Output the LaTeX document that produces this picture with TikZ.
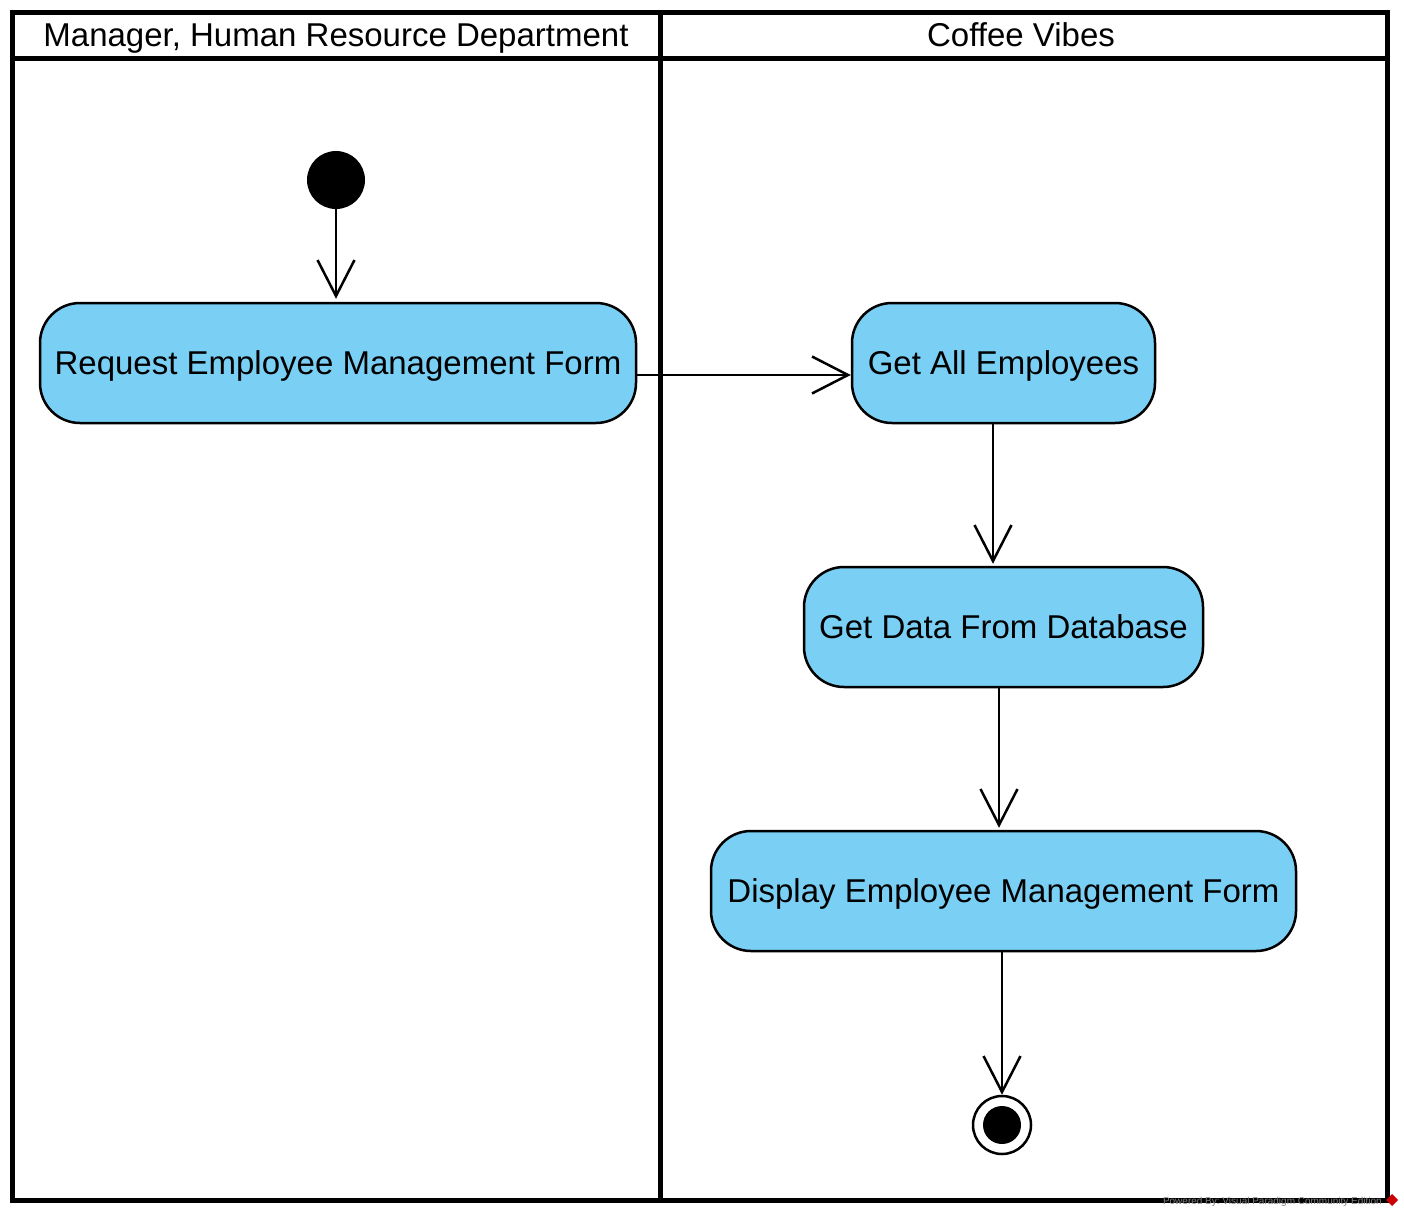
\documentclass[tikz,border=0pt]{standalone}
\usepackage{fontspec}
\setmainfont{Liberation Sans}
\usetikzlibrary{arrows.meta}
\definecolor{actblue}{RGB}{122,207,245}
\tikzset{
  act/.style={draw=black, line width=2.5pt, fill=actblue, rounded corners=40pt,
    minimum height=120pt, inner sep=0pt, text height=23.6pt, text depth=0pt,
    font=\fontsize{33}{39}\selectfont},
  flow/.style={line width=2.5pt, -{Straight Barb[length=36pt,width=37pt,line width=2.5pt]}},
  lane/.style={line width=5pt},
  lanetitle/.style={font=\fontsize{33}{39}\selectfont, inner sep=0pt, text height=23.6pt, text depth=0pt},
}
\begin{document}
\begin{tikzpicture}[x=1pt,y=-1pt]
\useasboundingbox (0,0) rectangle (1404,1218);
% swimlanes
\draw[lane] (12,12) rectangle (1387,1200);
\draw[lane] (12,58) -- (1387,58);
\draw[lane] (660,12) -- (660,1200);
\node[lanetitle] (lane1) at (336,35) {Manager, Human Resource Department};
\node[lanetitle] (lane2) at (1021,35) {Coffee Vibes};
% nodes
\node[circle, fill=black, minimum size=58pt, inner sep=0pt] (start) at (336,180) {};
\node[act, minimum width=596pt] (req) at (338,363) {Request Employee Management Form};
\node[act, minimum width=303pt] (getall) at (1003.5,363) {Get All Employees};
\node[act, minimum width=399pt] (getdata) at (1003.5,627) {Get Data From Database};
\node[act, minimum width=585pt] (disp) at (1003.5,891) {Display Employee Management Form};
\node[circle, draw=black, line width=2.5pt, fill=white, minimum size=58pt, inner sep=0pt] (final) at (1002,1125) {};
\node[circle, fill=black, minimum size=38pt, inner sep=0pt] (finaldot) at (final.center) {};
% flows
\draw[flow] (start.south) -- ([yshift=3pt]start.south |- req.north);
\draw[flow] ([yshift=-12pt]req.east) -- ([yshift=-12pt]getall.west);
\coordinate (a1) at ([xshift=-10.5pt]getall.south);
\draw[flow] (a1) -- ([yshift=2pt]a1 |- getdata.north);
\coordinate (a2) at ([xshift=-4.5pt]getdata.south);
\draw[flow] (a2) -- ([yshift=2pt]a2 |- disp.north);
\coordinate (a3) at ([xshift=-1.5pt]disp.south);
\draw[flow] (a3) -- (final.north);
% watermark
\node[anchor=east, text=gray, font=\fontsize{10}{11}\selectfont, inner sep=0pt] (wm) at (1382,1202) {Powered By:\ Visual Paradigm Community Edition};
\fill[red!80!black] (1392,1194) -- (1398,1200) -- (1392,1206) -- (1386,1200) -- cycle;
\end{tikzpicture}
\end{document}
